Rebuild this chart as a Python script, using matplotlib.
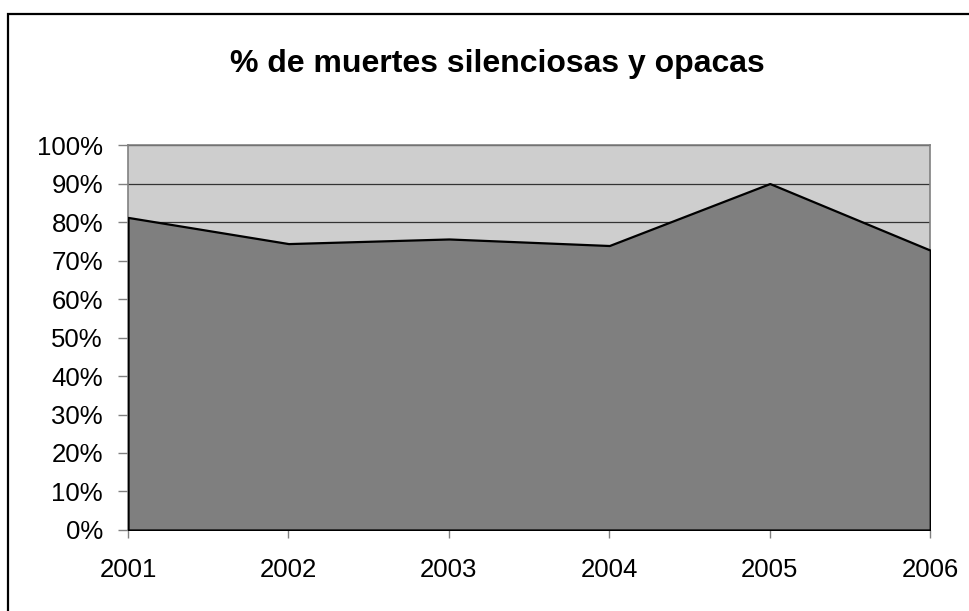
import matplotlib.pyplot as plt
import matplotlib.patches as patches
from matplotlib.ticker import MultipleLocator, FuncFormatter

plt.rcParams['font.family'] = ['Liberation Sans', 'DejaVu Sans']

# datos
years = ['2001', '2002', '2003', '2004', '2005', '2006']
pct = [81.2, 74.4, 75.6, 73.9, 90.0, 72.7]

fig = plt.figure(figsize=(9.7, 6.11), dpi=100)
ax = fig.add_axes([0.132, 0.1326, 0.827, 0.630])

x = list(range(len(years)))

# fondo del area de grafico
ax.set_facecolor('#cecece')

# lineas de la cuadricula
ax.yaxis.set_major_locator(MultipleLocator(10))
ax.grid(axis='y', color='#333333', lw=0.9, zorder=1)
ax.set_axisbelow(True)

# area
ax.fill_between(x, pct, 0, facecolor='#7f7f7f', edgecolor='black', lw=1.6, zorder=3)

ax.set_xlim(0, len(years) - 1)
ax.set_ylim(0, 100)
ax.set_xticks(x)
ax.set_xticklabels(years)
ax.yaxis.set_major_formatter(FuncFormatter(lambda v, p: '%d%%' % v))

ax.tick_params(axis='both', labelsize=18.5, colors='black', width=1, direction='out')
ax.tick_params(axis='x', pad=14, length=6, color='#808080')
ax.tick_params(axis='y', pad=11, length=7, color='#808080')

for s in ax.spines.values():
    s.set_color('#808080')
    s.set_linewidth(1.2)

# titulo
fig.text(0.513, 0.896, '% de muertes silenciosas y opacas', ha='center', va='center',
         fontsize=23, fontweight='bold')

# borde del grafico
border = patches.Rectangle((8.5 / 970, -0.1), 1.2, 1 - 14 / 611 + 0.1,
                           transform=fig.transFigure, fill=False,
                           edgecolor='black', lw=1.6)
fig.add_artist(border)

plt.savefig('out.png', dpi=100)
